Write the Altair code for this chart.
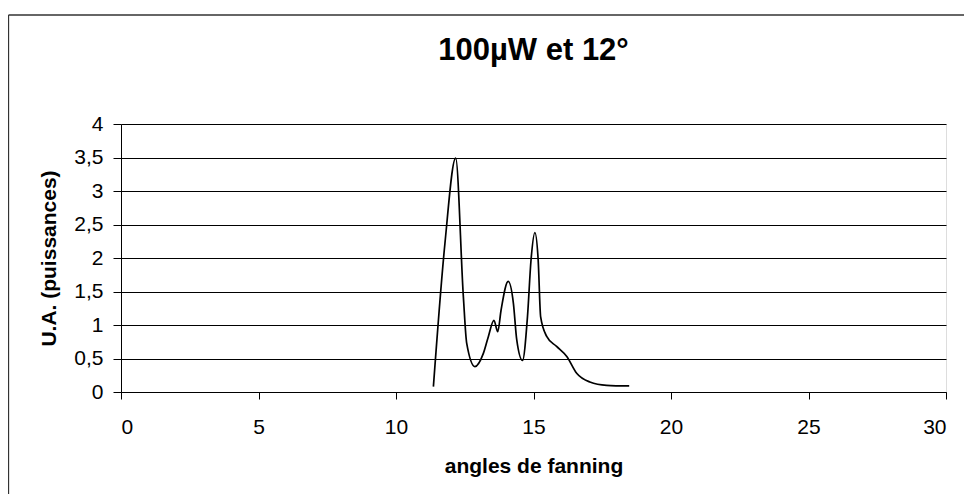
import altair as alt
import pandas as pd

angles = [11.36, 11.78, 12.17, 12.45, 12.57, 12.87, 13.18, 13.36, 13.56, 13.70, 13.82,
          14.08, 14.27, 14.39, 14.60, 14.78, 14.91, 15.05, 15.17, 15.26, 15.48, 15.84,
          16.21, 16.57, 17.05, 17.66, 18.48]
puissances = [0.08, 2.22, 3.49, 1.42, 0.73, 0.38, 0.58, 0.83, 1.07, 0.90, 1.22,
              1.65, 1.32, 0.78, 0.47, 1.12, 1.97, 2.38, 1.97, 1.12, 0.83, 0.68,
              0.53, 0.28, 0.15, 0.10, 0.09]
title_text = ["100µW et 12°"]

df = pd.DataFrame({"x": angles, "y": puissances})

FONT = "Liberation Sans"

line = alt.Chart(df).mark_line(color="black", strokeWidth=1.7, interpolate="monotone").encode(
    x=alt.X("x:Q", scale=alt.Scale(domain=[0, 30], nice=False),
            axis=alt.Axis(values=[0, 5, 10, 15, 20, 25, 30], title="angles de fanning",
                          grid=False, domainColor="black", tickColor="black", tickSize=7,
                          labelFont=FONT, labelFontSize=21, labelColor="black", labelPadding=17,
                          titleFont=FONT, titleFontSize=21, titleFontWeight="bold",
                          titleColor="black", titlePadding=18)),
    y=alt.Y("y:Q", scale=alt.Scale(domain=[0, 4], nice=False),
            axis=alt.Axis(values=[0, 0.5, 1, 1.5, 2, 2.5, 3, 3.5, 4], title="U.A. (puissances)",
                          labelExpr="replace(toString(datum.value), '.', ',')",
                          grid=True, gridColor="black", gridWidth=1.2,
                          domainColor="black", tickColor="black", tickSize=8,
                          labelFont=FONT, labelFontSize=21, labelColor="black", labelPadding=10,
                          titleFont=FONT, titleFontSize=21, titleFontWeight="bold",
                          titleColor="black", titlePadding=14)),
)

title = alt.Chart(pd.DataFrame({"t": title_text})).mark_text(
    font=FONT, fontSize=31, fontWeight="bold", color="black", align="center", baseline="middle"
).encode(text="t:N", x=alt.value(412.5), y=alt.value(-73))

anchor = pd.DataFrame({"a": [0]})
frame_top = alt.Chart(anchor).mark_rule(color="#333333", strokeWidth=1.3, clip=False).encode(
    x=alt.value(-112.5), x2=alt.value(860), y=alt.value(-109)
)
frame_left = alt.Chart(anchor).mark_rule(color="#333333", strokeWidth=1.3, clip=False).encode(
    x=alt.value(-112.5), y=alt.value(-109), y2=alt.value(120 + 268 - 268 + 260)
)

chart = alt.layer(frame_top, frame_left, title, line).properties(
    width=825, height=268,
    autosize=alt.AutoSizeParams(type="none"),
    padding={"left": 113, "top": 116, "right": 18, "bottom": 102},
).configure_view(stroke="#888888", strokeWidth=1, strokeDash=[2, 1]).configure(background="white")

chart.save("out.html", embed_options={"renderer": "svg", "actions": False})
